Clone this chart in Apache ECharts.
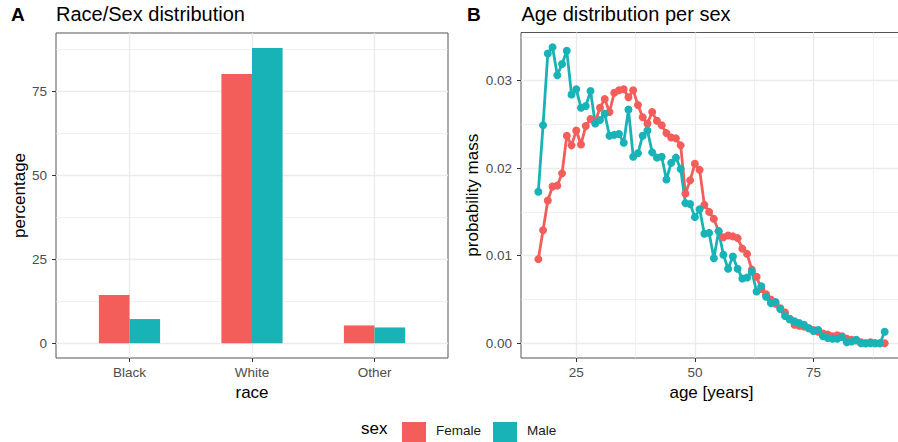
<!DOCTYPE html>
<html><head><meta charset="utf-8">
<script src="https://cdn.jsdelivr.net/npm/echarts@6/dist/echarts.min.js"></script>
<style>html,body{margin:0;padding:0;background:#fff}#c{width:898px;height:442px}</style>
</head><body><div id="c"></div>
<script>
// ---- data ----
const races = ['Black', 'White', 'Other'];
const femalePct = [14.35, 80.2, 5.3];
const malePct = [7.2, 87.9, 4.7];

const ages = [17,18,19,20,21,22,23,24,25,26,27,28,29,30,31,32,33,34,35,36,37,38,39,40,
  41,42,43,44,45,46,47,48,49,50,51,52,53,54,55,56,57,58,59,60,61,62,63,64,65,66,67,68,69,70,
  71,72,73,74,75,76,77,78,79,80,81,82,83,84,85,86,87,88,89,90];
const femaleMass = [0.0096,0.0129,0.0163,0.0179,0.0180,0.0194,0.0237,0.0226,0.0243,0.0227,
  0.0248,0.0256,0.0253,0.0269,0.0279,0.0264,0.0286,0.0289,0.0290,0.0281,0.0289,0.0272,0.0258,0.0251,
  0.0264,0.0254,0.0249,0.0240,0.0235,0.0234,0.0226,0.0171,0.0186,0.0205,0.0198,0.0158,0.0150,0.0142,
  0.0128,0.0121,0.0123,0.0122,0.0120,0.0108,0.0102,0.0084,0.0076,0.0062,0.0056,0.0050,0.0045,0.0040,
  0.0035,0.0028,0.0021,0.0020,0.0019,0.0017,0.0015,0.0013,0.0011,0.0010,0.0008,0.0009,0.0008,0.0005,
  0.0004,0.0003,0.0001,0.0000,0.0001,0.0000,0.0000,0.0000];
const maleMass = [0.0173,0.0249,0.0331,0.0338,0.0306,0.0319,0.0334,0.0284,0.0290,0.0269,
  0.0271,0.0288,0.0251,0.0255,0.0262,0.0237,0.0238,0.0239,0.0229,0.0267,0.0213,0.0217,0.0237,0.0243,
  0.0218,0.0212,0.0213,0.0187,0.0206,0.0212,0.0199,0.0160,0.0159,0.0144,0.0153,0.0125,0.0126,0.0097,
  0.0128,0.0101,0.0085,0.0099,0.0085,0.0074,0.0075,0.0082,0.0059,0.0065,0.0053,0.0046,0.0047,0.0039,
  0.0031,0.0027,0.0025,0.0023,0.0021,0.0017,0.0014,0.0015,0.0008,0.0006,0.0005,0.0005,0.0007,0.0001,
  0.0002,0.0004,0.0000,0.0000,0.0000,0.0000,0.0000,0.0013];

const pctTicks = [0, 25, 50, 75];
const pctMinor = [12.5, 37.5, 62.5, 87.5];
const massTicks = [0, 0.01, 0.02, 0.03];
const massMinor = [0.005, 0.015, 0.025, 0.035];
const ageTicks = [25, 50, 75];
const ageMinor = [37.5, 62.5, 87.5];
const sexes = ['Female', 'Male'];

// ---- styles ----
const FONT = '"Liberation Sans", Arial, Helvetica, sans-serif';
const COL = { Female: '#F35E5A', Male: '#18B3B7' };
const GRIDC = '#EBEBEB';
const LAB = { fontSize: 13.5, color: '#4D4D4D', fontFamily: FONT };
const NAME = { fontSize: 17, color: '#000', fontFamily: FONT };

function majorAxis(extra) {
  return Object.assign({
    type: 'value',
    axisLine: { show: false, onZero: false },
    axisTick: { show: true, length: 4, lineStyle: { color: '#333', width: 1 } },
    splitLine: { show: true, lineStyle: { color: GRIDC, width: 1.3 } },
    minorSplitLine: { show: false }
  }, extra);
}
function minorAxis(extra) {
  return Object.assign({
    type: 'value',
    axisLine: { show: false, onZero: false },
    axisTick: { show: false },
    axisLabel: { show: false },
    splitLine: { show: true, lineStyle: { color: GRIDC, width: 0.7 } }
  }, extra);
}

const chart = echarts.init(document.getElementById('c'), null, { renderer: 'svg' });
chart.setOption({
  animation: false,
  backgroundColor: '#fff',
  textStyle: { fontFamily: FONT },
  grid: [
    { left: 56, top: 33, width: 392, height: 325, show: true, borderColor: '#555', borderWidth: 1, backgroundColor: 'transparent', outerBoundsMode: 'none' },
    { left: 521, top: 32.5, width: 381, height: 325.5, show: true, borderColor: '#555', borderWidth: 1, backgroundColor: 'transparent', outerBoundsMode: 'none' }
  ],
  xAxis: [
    majorAxis({ gridIndex: 0, min: 0.4, max: 3.6, position: 'bottom',
      axisTick: { show: true, length: 4, lineStyle: { color: '#333' }, customValues: [1, 2, 3] },
      axisLabel: Object.assign({ margin: 7, customValues: [1, 2, 3], formatter: v => races[Math.round(v) - 1] }, LAB),
      name: 'race', nameLocation: 'middle', nameGap: 25, nameTextStyle: NAME }),
    majorAxis({ gridIndex: 1, min: 13.35, max: 93.65, position: 'bottom',
      axisTick: { show: true, length: 4, lineStyle: { color: '#333' }, customValues: ageTicks },
      axisLabel: Object.assign({ margin: 7, customValues: ageTicks }, LAB),
      name: 'age [years]', nameLocation: 'middle', nameGap: 25, nameTextStyle: NAME }),
    minorAxis({ gridIndex: 1, min: 13.35, max: 93.65, position: 'bottom',
      axisTick: { show: false, customValues: ageMinor } })
  ],
  yAxis: [
    majorAxis({ gridIndex: 0, min: -4.4, max: 92.4, position: 'left',
      axisTick: { show: true, length: 4, lineStyle: { color: '#333' }, customValues: pctTicks },
      axisLabel: Object.assign({ margin: 9, customValues: pctTicks }, LAB),
      name: 'percentage', nameLocation: 'middle', nameGap: 28, nameRotate: 90, nameTextStyle: NAME }),
    minorAxis({ gridIndex: 0, min: -4.4, max: 92.4, position: 'left',
      axisTick: { show: false, customValues: pctMinor } }),
    majorAxis({ gridIndex: 1, min: -0.00169, max: 0.03549, position: 'left',
      axisTick: { show: true, length: 4, lineStyle: { color: '#333' }, customValues: massTicks },
      axisLabel: Object.assign({ margin: 9, customValues: massTicks, formatter: v => v.toFixed(2) }, LAB),
      name: 'probability mass', nameLocation: 'middle', nameGap: 40, nameRotate: 90, nameTextStyle: NAME }),
    minorAxis({ gridIndex: 1, min: -0.00169, max: 0.03549, position: 'left',
      axisTick: { show: false, customValues: massMinor } })
  ],
  legend: {
    data: sexes, left: 397, top: 417, orient: 'horizontal',
    icon: 'rect', itemWidth: 24, itemHeight: 24, itemGap: 12,
    formatter: '{t|{name}}',
    textStyle: { fontSize: 13.5, color: '#1A1A1A', fontFamily: FONT,
      rich: { t: { fontSize: 13.5, color: '#1A1A1A', fontFamily: FONT, padding: [0, 0, 8, 5] } } },
    selectedMode: false
  },
  graphic: [
    { type: 'text', left: 11, top: 5, style: { text: 'A', fontSize: 19, fontWeight: 'bold', fill: '#000', fontFamily: FONT } },
    { type: 'text', left: 56, top: 4, style: { text: 'Race/Sex distribution', fontSize: 20, fill: '#000', fontFamily: FONT } },
    { type: 'text', left: 467, top: 5, style: { text: 'B', fontSize: 19, fontWeight: 'bold', fill: '#000', fontFamily: FONT } },
    { type: 'text', left: 521.5, top: 4, style: { text: 'Age distribution per sex', fontSize: 20, fill: '#000', fontFamily: FONT } },
    { type: 'text', left: 361, top: 420, style: { text: 'sex', fontSize: 17, fill: '#000', fontFamily: FONT } }
  ],
  series: [
    { name: 'Female', type: 'bar', xAxisIndex: 0, yAxisIndex: 0, barWidth: 30.6, barGap: '0%',
      itemStyle: { color: COL.Female }, emphasis: { disabled: true },
      data: races.map((r, i) => [i + 1, femalePct[i]]) },
    { name: 'Male', type: 'bar', xAxisIndex: 0, yAxisIndex: 0, barWidth: 30.6, barGap: '0%',
      itemStyle: { color: COL.Male }, emphasis: { disabled: true },
      data: races.map((r, i) => [i + 1, malePct[i]]) },
    { name: 'Female', type: 'line', xAxisIndex: 1, yAxisIndex: 2, symbol: 'circle', symbolSize: 8,
      itemStyle: { color: COL.Female }, lineStyle: { color: COL.Female, width: 2.8 }, emphasis: { disabled: true },
      data: ages.map((a, i) => [a, femaleMass[i]]) },
    { name: 'Male', type: 'line', xAxisIndex: 1, yAxisIndex: 2, symbol: 'circle', symbolSize: 8,
      itemStyle: { color: COL.Male }, lineStyle: { color: COL.Male, width: 2.8 }, emphasis: { disabled: true },
      data: ages.map((a, i) => [a, maleMass[i]]) }
  ]
});
</script>
</body></html>
